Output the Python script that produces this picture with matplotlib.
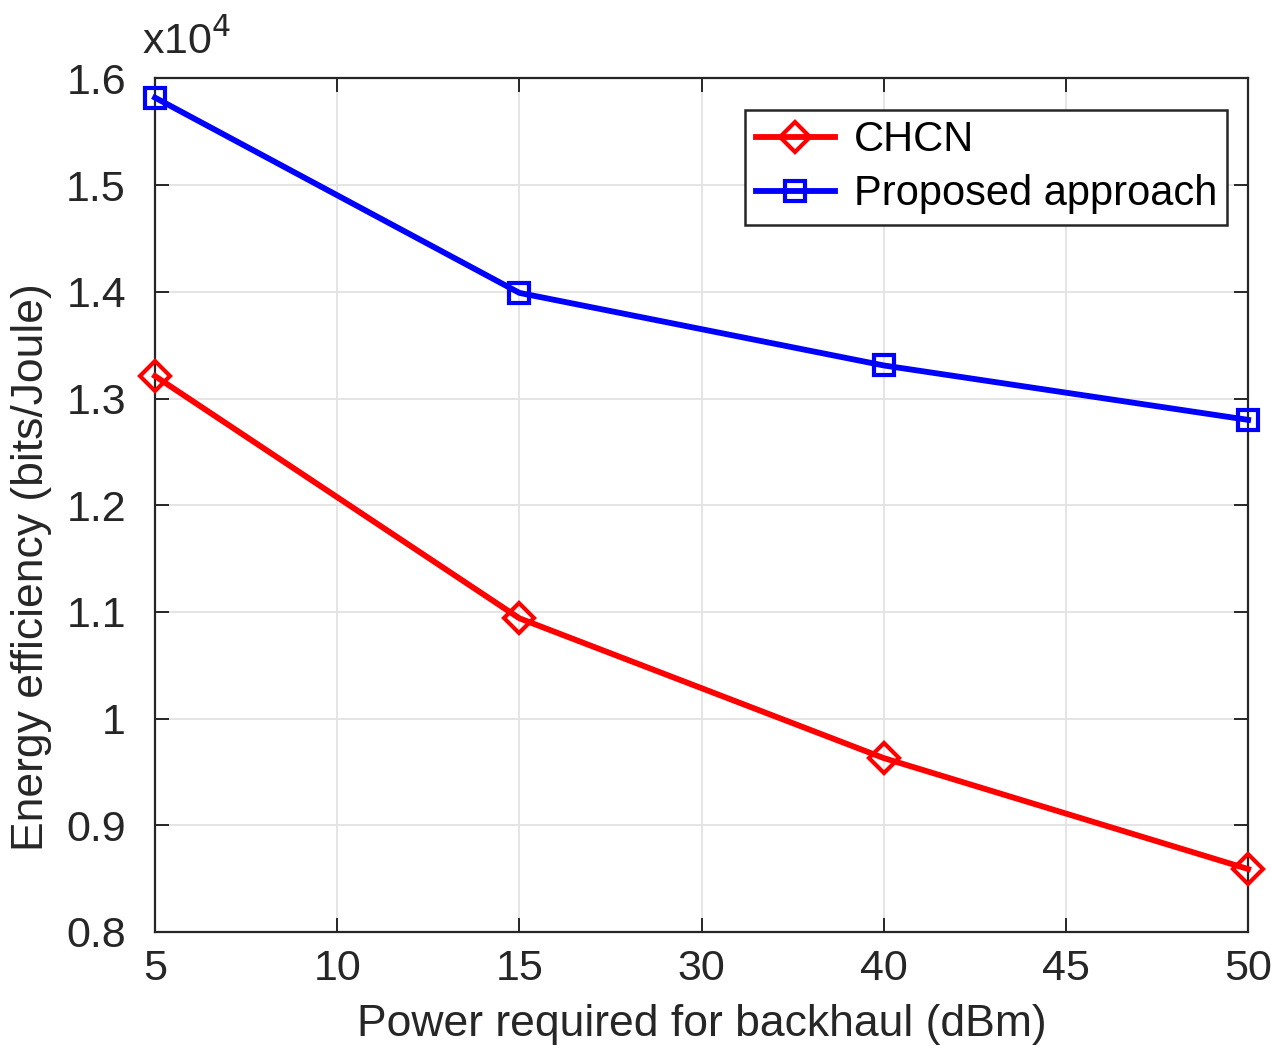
import matplotlib.pyplot as plt

plt.rcParams['font.family'] = ['Liberation Sans', 'DejaVu Sans']

# tick categories along x (equally spaced)
x_ticks = ["5", "10", "15", "30", "40", "45", "50"]
x_data = ["5", "15", "40", "50"]

# energy efficiency, in units of 1e4 bits/Joule
chcn = [1.321, 1.094, 0.963, 0.859]
proposed = [1.582, 1.399, 1.331, 1.280]

y_ticks = [0.8, 0.9, 1.0, 1.1, 1.2, 1.3, 1.4, 1.5, 1.6]
y_labels = ["0.8", "0.9", "1", "1.1", "1.2", "1.3", "1.4", "1.5", "1.6"]

TXT = "#262626"

fig = plt.figure(figsize=(12.71, 10.46), dpi=100)
ax = fig.add_axes([0.122, 0.109, 0.860, 0.816])

xpos = [x_ticks.index(v) for v in x_data]

ax.plot(xpos, chcn, color="red", lw=4.2, marker="D", ms=15, mew=3,
        mfc="none", label="CHCN", clip_on=False, zorder=3)
ax.plot(xpos, proposed, color="blue", lw=4.2, marker="s", ms=14, mew=3,
        mfc="none", label="Proposed approach", clip_on=False, zorder=3)

ax.set_xlim(0, len(x_ticks) - 1)
ax.set_ylim(0.8, 1.6)
ax.set_xticks(range(len(x_ticks)))
ax.set_xticklabels(x_ticks)
ax.set_yticks(y_ticks)
ax.set_yticklabels(y_labels)

ax.grid(True, color="#e3e3e3", lw=1.3)
ax.set_axisbelow(True)
ax.tick_params(direction="in", length=10, width=1.4, top=True, right=True,
               labelsize=31, colors=TXT)
ax.tick_params(axis="x", pad=12)
ax.tick_params(axis="y", pad=21)
for s in ax.spines.values():
    s.set_color(TXT)
    s.set_linewidth(1.6)

ax.set_xlabel("Power required for backhaul (dBm)", fontsize=32, color=TXT,
              labelpad=11)
ax.set_ylabel("Energy efficiency (bits/Joule)", fontsize=32, color=TXT)
ax.yaxis.set_label_coords(-0.094, 0.427)

ax.text(-0.012, 1.018, r"x10$^{4}$", transform=ax.transAxes, fontsize=31,
        color=TXT, ha="left", va="bottom")

leg = ax.legend(loc="upper right", bbox_to_anchor=(0.981, 0.963), fontsize=30,
                fancybox=False, framealpha=1, edgecolor=TXT,
                handlelength=1.9, handletextpad=0.45, borderpad=0.25,
                labelspacing=0.33, borderaxespad=0)
leg.get_frame().set_linewidth(1.8)

fig.savefig("out.png", dpi=100)
